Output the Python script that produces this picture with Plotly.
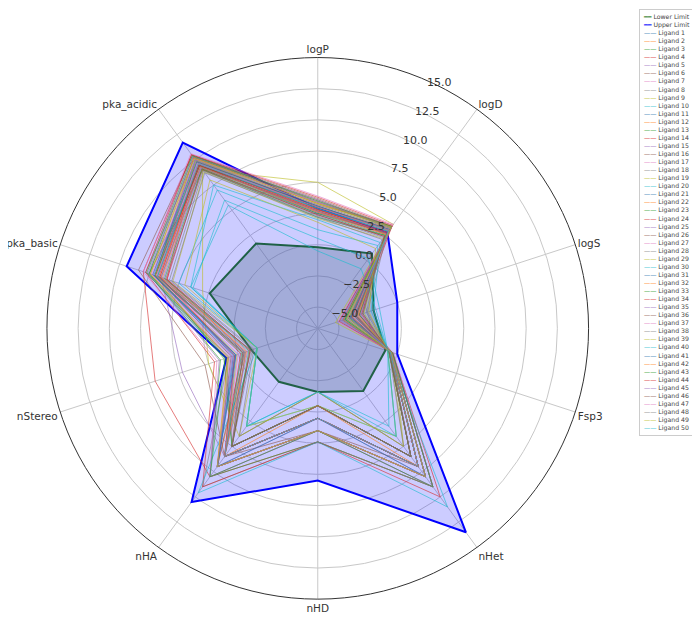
import plotly.graph_objects as go

props = ['logP', 'logD', 'logS', 'Fsp3', 'nHet', 'nHD', 'nHA', 'nStereo', 'pka_basic', 'pka_acidic']

lower = [-0.2, 0.7, -2.0, -1.0, -0.5, -1.6, -1.4, -1.1, 2.4, 1.7]
upper = [2.9, 2.8, 0.0, 0.0, 13.5, 5.5, 10.5, 1.0, 9.4, 11.7]

logP = [2.5, 3.0, 2.2, 3.4, 2.8, 3.6, 3.2, 2.6, 5.0, 1.2, 3.1, 2.9, 3.3, 2.4, 3.0, 3.7, 2.7, 3.5, 2.1, 2.0,
        3.4, 2.8, 3.0, 3.8, 2.6, 3.1, 3.9, 2.3, 3.2, -0.5, 2.9, 3.3, 2.5, 2.7, 3.6, 3.0, 3.4, 2.2, 1.8, 0.5,
        3.1, 2.6, 3.5, 2.8, 3.2, 2.4, 3.0, 2.7, 3.3, 2.9]
logD = [2.8, 3.2, 2.5, 3.4, 2.9, 3.3, 3.5, 2.7, 3.6, 1.5, 3.0, 2.6, 3.3, 2.4, 3.1, 3.4, 2.8, 3.2, 2.2, 1.8,
        3.3, 2.9, 3.0, 3.5, 2.6, 3.1, 3.6, 2.3, 3.2, -0.8, 2.9, 3.4, 2.5, 2.7, 3.3, 3.0, 3.5, 2.1, 1.2, 0.2,
        3.1, 2.6, 3.4, 2.8, 3.2, 2.4, 3.0, 2.7, 3.3, 2.9]
logS = [-4.5, -3.8, -4.1, -3.2, -4.8, -3.5, -3.9, -2.5, -5.2, -2.2, -4.0, -3.6, -4.3, -3.0, -3.7, -4.6, -3.3,
        -4.2, -2.8, -2.0, -4.4, -3.4, -4.0, -4.9, -3.1, -3.8, -5.0, -2.9, -4.1, -1.8, -3.5, -4.5, -3.2, -3.6,
        -4.7, -3.9, -4.2, -2.6, -2.4, -1.5, -3.9, -3.3, -4.4, -3.5, -4.0, -2.9, -3.7, -3.4, -4.3, -3.6]
fsp3 = [-0.6, -0.5, -0.7, -0.4, -0.6, -0.5, -0.7, -0.6, -0.3, -0.8, -0.5, -0.6, -0.4, -0.7, -0.5, -0.6, -0.7,
        -0.4, -0.6, -0.8, -0.5, -0.6, -0.7, -0.4, -0.6, -0.5, -0.3, -0.7, -0.5, -0.8, -0.6, -0.5, -0.7, -0.6,
        -0.4, -0.6, -0.5, -0.7, -0.8, -0.8, -0.5, -0.6, -0.4, -0.6, -0.5, -0.7, -0.6, -0.6, -0.5, -0.6]
nHet = [7, 8, 6, 9, 7, 8, 6, 7, 5, 4, 8, 7, 9, 6, 8, 7, 6, 9, 5, 3, 8, 7, 6, 10, 7, 8, 9, 6, 7, 11,
        7, 8, 6, 7, 9, 6, 8, 5, 4, 4, 8, 7, 9, 7, 8, 6, 7, 6, 8, 7]
nHD = [0.5, 1.5, -0.5, 2.4, 0.5, 1.5, -0.5, 0.5, -1.6, -0.5, 1.5, 0.5, 2.4, -0.5, 0.5, 1.5, -0.5, 2.4, -1.6,
       -1.6, 1.5, 0.5, -0.5, 2.4, 0.5, 1.5, 1.5, -0.5, 0.5, 2.4, 0.5, 1.5, -0.5, 0.5, 1.5, -0.5, 1.5, -1.6,
       -0.5, -1.6, 0.5, -0.5, 1.5, 0.5, 1.5, -0.5, 0.5, -0.5, 1.5, 0.5]
nHA = [6, 7, 5, 8, 6, 7, 5, 6, 4, 3, 7, 6, 8, 5, 7, 6, 5, 9, 4, 3, 7, 6, 5, 9, 6, 7, 8, 5, 6, 9.6,
       6, 7, 5, 6, 8, 5, 7, 4, 3, 3, 7, 6, 8, 6, 7, 5, 6, 5, 7, 6]
nStereo = [0.2, -0.6, 1.0, 7.0, 4.7, -0.4, 0.5, -1.1, 2.5, -1.6, 0.3, -0.5, 1.5, -1.0, 0.2, 2.8, -0.6, 0.8,
           -1.6, -1.6, 0.4, -0.3, 1.2, 2.0, -0.8, 0.6, 1.8, -1.2, 0.1, -1.6, -0.5, 0.9, -0.9, 0.3, 1.6, -0.4,
           0.7, -1.3, -1.6, -1.6, 0.2, -0.7, 1.1, -0.2, 0.5, -1.0, 0.0, -0.6, 0.8, -0.3]
pka_basic = [7, 6, 7.5, 8, 6.5, 7, 6, 7, 3, 5, 7.2, 6.8, 7.5, 6, 7, 8.4, 6.5, 7.8, 5.5, 4,
             7, 6.6, 7, 7.8, 6.3, 7, 8, 5.8, 7, 4, 6.8, 7.4, 6.2, 6.6, 7.6, 6.9, 7.3, 5.6, 4.5, 3.8,
             7.1, 6.4, 7.7, 6.7, 7.2, 6.1, 6.9, 6.5, 7.4, 6.8]
pka_acidic = [9.5, 10, 9, 10.5, 9.2, 10.2, 9.8, 9.4, 9, 7, 9.9, 9.5, 10.3, 9.1, 9.7, 10.4, 9.3, 10.1, 8.8, 7.5,
              10, 9.6, 9.4, 10.5, 9.2, 9.8, 10.6, 8.9, 9.9, 5.5, 9.5, 10.2, 9.1, 9.4, 10.3, 9.6, 10, 8.7, 8, 6,
              9.8, 9.3, 10.4, 9.5, 10, 9, 9.6, 9.3, 10.1, 9.6]

tab10 = ['#1f77b4', '#ff7f0e', '#2ca02c', '#d62728', '#9467bd',
         '#8c564b', '#e377c2', '#7f7f7f', '#bcbd22', '#17becf']
lim_colors = {'Lower Limit': '#2a7a1a', 'Upper Limit': '#0000ff'}

closed = props + props[:1]
fig = go.Figure()

fig.add_trace(go.Scatterpolar(r=lower + lower[:1], theta=closed, name='Lower Limit', mode='lines',
                              line=dict(color=lim_colors['Lower Limit'], width=2), fill='toself',
                              fillcolor='rgba(110,140,120,0.35)'))
fig.add_trace(go.Scatterpolar(r=upper + upper[:1], theta=closed, name='Upper Limit', mode='lines',
                              line=dict(color=lim_colors['Upper Limit'], width=2), fill='toself',
                              fillcolor='rgba(0,0,255,0.2)'))

for i in range(50):
    vals = [logP[i], logD[i], logS[i], fsp3[i], nHet[i], nHD[i], nHA[i], nStereo[i],
            pka_basic[i], pka_acidic[i]]
    fig.add_trace(go.Scatterpolar(r=vals + vals[:1], theta=closed, name=f'Ligand {i + 1}', mode='lines',
                                  line=dict(color=tab10[i % 10], width=1), opacity=0.6))

# compact legend drawn as text (plotly's legend rows are too tall for 52 entries)
rows = []
for name, c in lim_colors.items():
    rows.append(f"<span style='color:{c}'><b>━━</b></span> {name}")
for i in range(50):
    rows.append(f"<span style='color:{tab10[i % 10]}'>——</span> Ligand {i + 1}")
fig.add_annotation(xref='paper', yref='paper', x=0.902, y=0.999, xanchor='left', yanchor='top',
                   text='<br>'.join(rows), align='left', showarrow=False,
                   font=dict(size=6.2, color='#444', family='DejaVu Sans'),
                   bordercolor='#cccccc', borderwidth=1, borderpad=3, bgcolor='white')

fig.update_layout(
    width=700, height=619,
    paper_bgcolor='white',
    showlegend=False,
    font=dict(family='DejaVu Sans', color='#333', size=10),
    margin=dict(l=0, r=0, t=0, b=0),
    polar=dict(
        domain=dict(x=[0.04, 0.845], y=[0.045, 0.92]),
        bgcolor='white',
        angularaxis=dict(rotation=90, direction='clockwise', gridcolor='#c8c8c8',
                         linecolor='#333', linewidth=1, showline=True, ticks='',
                         tickfont=dict(size=10.5)),
        radialaxis=dict(range=[-6.7, 15], tickvals=[-5, -2.5, 0, 2.5, 5, 7.5, 10, 12.5, 15],
                        ticktext=['−5.0', '−2.5', '0.0', '2.5', '5.0', '7.5', '10.0', '12.5', '15.0'],
                        angle=67.5, tickangle=67.5, showline=False, gridcolor='#c8c8c8', ticks='',
                        tickfont=dict(size=11)),
    ),
)

fig.write_html('out.html')
